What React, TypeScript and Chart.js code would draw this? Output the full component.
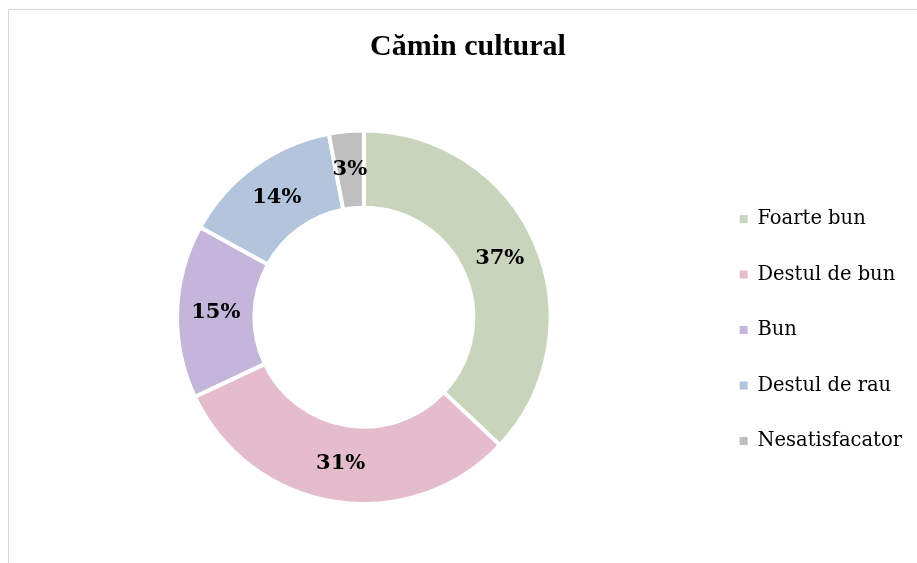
import React, { useEffect, useRef } from "react";
import { Chart, registerables } from "chart.js";

Chart.register(...registerables);

const title = "Cămin cultural";
const categories = ["Foarte bun", "Destul de bun", "Bun", "Destul de rau", "Nesatisfacator"];
const values = [37, 31, 15, 14, 3];
const colors = ["#c9d4bd", "#e4bccb", "#c4b5da", "#b2c5dd", "#bfbfbf"];

const SERIF = "'DejaVu Serif', serif";
const TITLE_FONT = "'Liberation Serif', 'Times New Roman', serif";

const labelPlugin = {
  id: "sliceLabels",
  afterDatasetsDraw(chart: any) {
    const ctx = chart.ctx;
    const meta = chart.getDatasetMeta(0);
    const data = chart.data.datasets[0].data as number[];
    const total = data.reduce((a, b) => a + b, 0);
    ctx.save();
    ctx.font = `bold 21px ${SERIF}`;
    ctx.fillStyle = "#000000";
    ctx.textAlign = "center";
    ctx.textBaseline = "middle";
    meta.data.forEach((arc: any, i: number) => {
      const p = arc.getProps(["x", "y", "startAngle", "endAngle", "innerRadius", "outerRadius"], true);
      const mid = (p.startAngle + p.endAngle) / 2;
      const r = (p.innerRadius + p.outerRadius) / 2;
      const pct = Math.round((data[i] / total) * 100) + "%";
      ctx.fillText(pct, p.x + Math.cos(mid) * r, p.y + Math.sin(mid) * r);
    });
    ctx.restore();
  },
};

export default function App() {
  const ref = useRef<HTMLCanvasElement | null>(null);
  useEffect(() => {
    if (!ref.current) return;
    const baseLabels = (Chart as any).overrides.doughnut.plugins.legend.labels.generateLabels;
    const chart = new Chart(ref.current, {
      type: "doughnut",
      data: {
        labels: categories,
        datasets: [
          {
            data: values,
            backgroundColor: colors,
            borderColor: "#ffffff",
            borderWidth: 4,
            hoverOffset: 0,
          },
        ],
      },
      options: {
        animation: false,
        responsive: false,
        cutout: "58.6%",
        layout: { padding: { left: 15, right: 15, top: 0, bottom: 57 } },
        plugins: {
          tooltip: { enabled: false },
          title: {
            display: true,
            text: title,
            color: "#000000",
            font: { family: TITLE_FONT, size: 30, weight: "bold", lineHeight: 1.2 },
            padding: { top: 19, bottom: 63.5 },
          },
          legend: {
            position: "right",
            fullSize: false,
            title: { display: true, text: "", font: { size: 10, lineHeight: 1 }, padding: { top: 15.5, bottom: 0 } },
            labels: {
              boxWidth: 8,
              boxHeight: 8,
              padding: 36,
              color: "#000000",
              font: { family: SERIF, size: 19.5 },
              generateLabels: (c: any) =>
                baseLabels(c).map((l: any) => ({ ...l, lineWidth: 0, strokeStyle: l.fillStyle })),
            },
          },
        },
      },
      plugins: [labelPlugin],
    });
    return () => chart.destroy();
  }, []);
  return (
    <div style={{ position: "absolute", left: 0, top: 0, width: 917, height: 563, overflow: "hidden", background: "#fff" }}>
      <div
        style={{
          position: "absolute",
          left: 8,
          top: 9,
          width: 940,
          height: 600,
          borderTop: "1px solid #d9d9d9",
          borderLeft: "1px solid #d9d9d9",
        }}
      >
        <canvas ref={ref} width={918} height={553} style={{ display: "block" }} />
      </div>
    </div>
  );
}
